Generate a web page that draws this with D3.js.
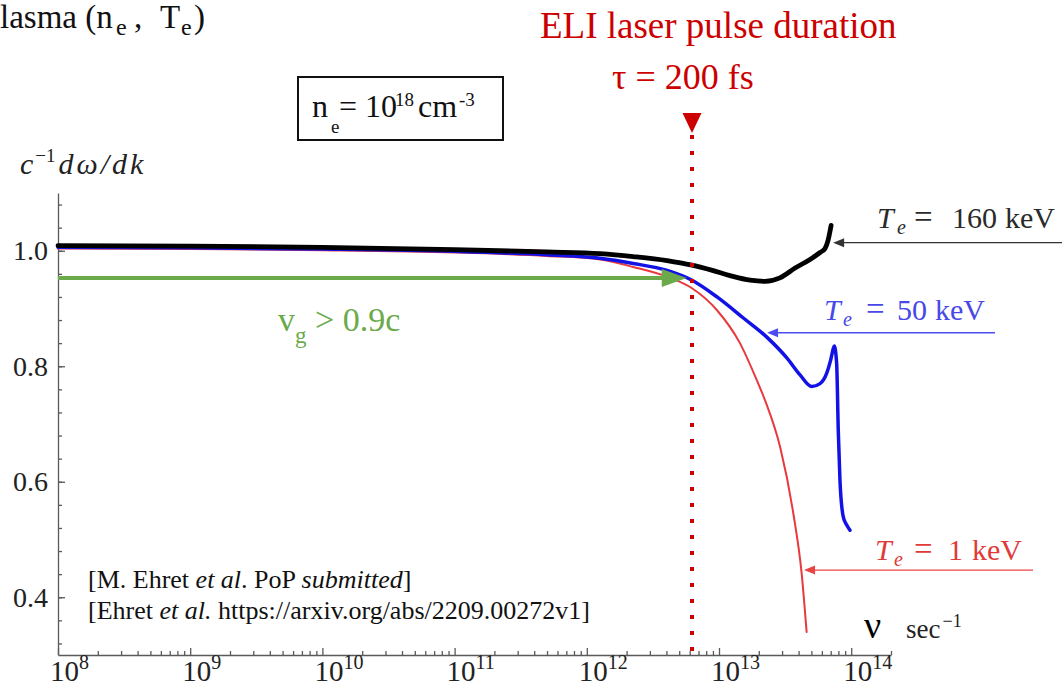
<!DOCTYPE html>
<html>
<head>
<meta charset="utf-8">
<script src="https://cdn.jsdelivr.net/npm/d3@7"></script>
<style>
  body { margin: 0; background: #fff; }
  svg { display: block; }
  text { font-family: "Liberation Serif", "Times New Roman", serif; }
</style>
</head>
<body>
<svg id="chart" width="1062" height="689"></svg>
<script>
// Group velocity c^-1 dω/dk versus frequency ν for three electron temperatures
const freq1keV = [1e8, 1e9, 1e10, 1e11, 5e11, 1.26e12, 2.24e12, 4.05e12, 6.25e12, 9.66e12,
                  1.44e13, 1.93e13, 2.23e13, 2.9e13, 3.65e13, 4.22e13, 4.6e13];
const vg1keV   = [1.004, 1.003, 1.001, 0.997, 0.991, 0.985, 0.972, 0.955, 0.935, 0.897,
                  0.840, 0.776, 0.741, 0.660, 0.545, 0.441, 0.340];

const freq50keV = [1e8, 1e9, 1e10, 1e11, 5e11, 1.26e12, 2.24e12, 4.05e12, 6.25e12, 9.66e12,
                   1.52e13, 2.31e13, 3.27e13, 4.1e13, 5.02e13, 5.81e13, 6.53e13, 7.0e13,
                   7.33e13, 7.45e13, 7.76e13, 7.98e13, 8.22e13, 8.71e13, 9.25e13, 9.79e13];
const vg50keV   = [1.006, 1.005, 1.003, 0.999, 0.993, 0.987, 0.978, 0.966, 0.949, 0.920,
                   0.884, 0.850, 0.814, 0.785, 0.765, 0.770, 0.788, 0.811,
                   0.831, 0.835, 0.805, 0.690, 0.603, 0.539, 0.525, 0.516];

const freq160keV = [1e8, 1e9, 1e10, 1e11, 5e11, 1.26e12, 2.24e12, 4.05e12, 6.25e12, 8.91e12,
                    1.21e13, 1.72e13, 2.23e13, 2.89e13, 3.76e13, 4.88e13, 5.81e13, 6.34e13,
                    6.68e13, 7.05e13];
const vg160keV   = [1.009, 1.008, 1.006, 1.002, 0.998, 0.995, 0.990, 0.983, 0.975, 0.966,
                    0.957, 0.949, 0.947, 0.953, 0.970, 0.985, 0.997, 1.004, 1.018, 1.044];

const xTickExponents = [8, 9, 10, 11, 12, 13, 14];
const yTickValues = [0.4, 0.6, 0.8, 1.0];
const yTickLabels = ["0.4", "0.6", "0.8", "1.0"];

const pulseFreq = 6.25e12;      // 1/τ marker
const thresholdVg = 0.953;      // v_g > 0.9c arrow level
const thresholdFreq = 5.7e12;   // arrow tip

// Temperature labels and where their pointers touch the curves
const legendKeV = ["160", "50", "1"];
const legendTipFreq = [7.3e13, 2.31e13, 4.4e13];
const legendTipVg = [1.014, 0.858, 0.447];

const svg = d3.select("#chart");
const x = d3.scaleLog().domain([1e8, 2e14]).range([58, 891]);
const y = d3.scaleLinear().domain([0.3, 1.1]).range([655, 193]);

// ---- axes ----
const minorX = [];
for (let e = 8; e <= 13; e++) for (let k = 2; k <= 9; k++) minorX.push(k * Math.pow(10, e));
minorX.push(2e14);
const majorX = xTickExponents.map(e => Math.pow(10, e));

const axisColor = "#5a5a5a";
const gx = svg.append("g").attr("transform", "translate(0,655)");
gx.call(d3.axisBottom(x).tickValues(minorX).tickSize(-4).tickSizeOuter(0).tickFormat(""));
gx.append("g").call(d3.axisBottom(x).tickValues(majorX).tickSize(-7).tickSizeOuter(0).tickFormat(""))
  .select(".domain").remove();
gx.selectAll("path,line").attr("stroke", axisColor).attr("stroke-width", 1.3);

const minorY = d3.range(0.32, 1.09, 0.04);
const gy = svg.append("g").attr("transform", "translate(58,0)");
gy.call(d3.axisLeft(y).tickValues(minorY).tickSize(-4).tickSizeOuter(0).tickFormat(""));
gy.append("g").call(d3.axisLeft(y).tickValues(yTickValues).tickSize(-7).tickSizeOuter(0).tickFormat(""))
  .select(".domain").remove();
gy.selectAll("path,line").attr("stroke", axisColor).attr("stroke-width", 1.3);

// x tick labels 10^n
const xl = svg.append("g").attr("fill", "#222").attr("font-size", 29);
xTickExponents.forEach(e => {
  const t = xl.append("text").attr("x", x(Math.pow(10, e)) - 8).attr("y", 681);
  t.append("tspan").text("10");
  t.append("tspan").attr("font-size", 20).attr("dy", -12).text(e);
});

// y tick labels
svg.append("g").attr("fill", "#222").attr("font-size", 28).attr("text-anchor", "end")
  .selectAll("text").data(yTickValues).join("text")
  .attr("x", 48).attr("y", d => y(d) + 9.5)
  .text((d, i) => yTickLabels[i]);

// y axis title
const yt = svg.append("text").attr("x", 20).attr("y", 174).attr("font-size", 30).attr("fill", "#222");
yt.append("tspan").attr("font-style", "italic").text("c");
yt.append("tspan").attr("font-size", 19).attr("dy", -12).attr("dx", 2).text("\u22121");
yt.append("tspan").attr("font-style", "italic").attr("dy", 12).attr("dx", 3)
  .attr("letter-spacing", 3).text("d\u03C9/dk");

// x axis unit
svg.append("text").attr("x", 864).attr("y", 638).attr("font-size", 38).attr("fill", "#000").text("\u03BD");
const unit = svg.append("text").attr("x", 906).attr("y", 638).attr("font-size", 27).attr("fill", "#222");
unit.append("tspan").text("sec");
unit.append("tspan").attr("font-size", 18).attr("dy", -11).attr("dx", 2).text("\u22121");

// ---- curves ----
const line = d3.line().x(d => x(d[0])).y(d => y(d[1])).curve(d3.curveMonotoneX);
const series = [
  { f: freq1keV,   v: vg1keV,   color: "#e8393c", w: 2 },
  { f: freq50keV,  v: vg50keV,  color: "#1212e6", w: 3.5 },
  { f: freq160keV, v: vg160keV, color: "#000000", w: 4.8 }
];
series.forEach(s => {
  svg.append("path")
    .datum(s.f.map((f, i) => [f, s.v[i]]))
    .attr("d", line)
    .attr("fill", "none")
    .attr("stroke", s.color)
    .attr("stroke-width", s.w)
    .attr("stroke-linejoin", "round")
    .attr("stroke-linecap", "round");
});

// ---- v_g > 0.9c arrow ----
const green = "#6aaa4a";
const gyPos = y(thresholdVg);
const tipX = x(thresholdFreq);
svg.append("line").attr("x1", x(1e8)).attr("x2", tipX - 20).attr("y1", gyPos).attr("y2", gyPos)
  .attr("stroke", green).attr("stroke-width", 4);
svg.append("path")
  .attr("d", `M${tipX},${gyPos} L${tipX - 25},${gyPos - 9} L${tipX - 25},${gyPos + 9} Z`)
  .attr("fill", green);
const vg = svg.append("text").attr("x", 278).attr("y", 331).attr("font-size", 34).attr("fill", green);
vg.append("tspan").text("v");
vg.append("tspan").attr("font-size", 23).attr("dy", 12).text("g");
vg.append("tspan").attr("dy", -12).text(" > 0.9c");

// ---- pulse duration marker ----
const red = "#cc0000";
const px = x(pulseFreq);
svg.append("line").attr("x1", px).attr("x2", px).attr("y1", 135).attr("y2", 652)
  .attr("stroke", red).attr("stroke-width", 4).attr("stroke-dasharray", "4 12");
svg.append("path").attr("d", `M${px - 9.5},113 L${px + 9.5},113 L${px},133 Z`).attr("fill", red);
svg.append("text").attr("x", 540).attr("y", 38).attr("font-size", 37).attr("fill", red)
  .text("ELI laser pulse duration");
svg.append("text").attr("x", 612).attr("y", 89).attr("font-size", 36).attr("fill", red)
  .text("\u03C4 = 200 fs");

// ---- density box ----
svg.append("rect").attr("x", 298).attr("y", 77).attr("width", 205).attr("height", 63)
  .attr("fill", "none").attr("stroke", "#111").attr("stroke-width", 2);
const box = svg.append("g").attr("fill", "#111");
box.append("text").attr("x", 312).attr("y", 117).attr("font-size", 32).text("n");
box.append("text").attr("x", 331).attr("y", 133).attr("font-size", 19).text("e");
box.append("text").attr("x", 339).attr("y", 117).attr("font-size", 32).text("= 10");
box.append("text").attr("x", 395).attr("y", 106).attr("font-size", 19).text("18");
box.append("text").attr("x", 418).attr("y", 117).attr("font-size", 32).text("cm");
box.append("text").attr("x", 459).attr("y", 106).attr("font-size", 19).text("-3");

// ---- heading fragment at top-left ----
const hd = svg.append("g").attr("fill", "#111");
hd.append("text").attr("x", 0).attr("y", 28).attr("font-size", 33).text("lasma (n");
hd.append("text").attr("x", 116).attr("y", 35).attr("font-size", 24).text("e");
hd.append("text").attr("x", 134).attr("y", 28).attr("font-size", 33).text(",");
hd.append("text").attr("x", 160).attr("y", 28).attr("font-size", 33).text("T");
hd.append("text").attr("x", 181).attr("y", 35).attr("font-size", 24).text("e");
hd.append("text").attr("x", 194).attr("y", 28).attr("font-size", 33).text(")");

// ---- temperature labels with pointers ----
const legendStyle = [
  { color: "#333333", textColor: "#2a2a2a", xEnd: 1062, tx: [877, 897, 914, 952, 1005], base: 228 },
  { color: "#4c4cf0", textColor: "#4848e8", xEnd: 995,  tx: [824, 843, 866, 897, 935],  base: 320 },
  { color: "#e84444", textColor: "#e03a3a", xEnd: 1033, tx: [875, 894, 914, 948, 972],  base: 560 }
];
legendKeV.forEach((k, i) => {
  const s = legendStyle[i];
  const tx0 = x(legendTipFreq[i]);
  const ty0 = y(legendTipVg[i]);
  svg.append("line").attr("x1", tx0 + 8).attr("x2", s.xEnd).attr("y1", ty0).attr("y2", ty0)
    .attr("stroke", s.color).attr("stroke-width", 1.4);
  svg.append("path").attr("d", `M${tx0},${ty0} L${tx0 + 11},${ty0 - 4.5} L${tx0 + 11},${ty0 + 4.5} Z`)
    .attr("fill", s.color);
  const g = svg.append("g").attr("fill", s.textColor).attr("font-size", 30);
  g.append("text").attr("x", s.tx[0]).attr("y", s.base).attr("font-style", "italic").text("T");
  g.append("text").attr("x", s.tx[1]).attr("y", s.base + 6).attr("font-size", 20)
    .attr("font-style", "italic").text("e");
  g.append("text").attr("x", s.tx[2]).attr("y", s.base).attr("font-size", 33).text("=");
  g.append("text").attr("x", s.tx[3]).attr("y", s.base).text(k);
  g.append("text").attr("x", s.tx[4]).attr("y", s.base).text("keV");
});

// ---- references ----
const refs = svg.append("g").attr("fill", "#111").attr("font-size", 26);
const r1 = refs.append("text").attr("x", 88).attr("y", 588);
r1.append("tspan").text("[M. Ehret ");
r1.append("tspan").attr("font-style", "italic").text("et al");
r1.append("tspan").text(". PoP ");
r1.append("tspan").attr("font-style", "italic").text("submitted");
r1.append("tspan").text("]");
const r2 = refs.append("text").attr("x", 88).attr("y", 619);
r2.append("tspan").text("[Ehret ");
r2.append("tspan").attr("font-style", "italic").text("et al.");
r2.append("tspan").text(" https://arxiv.org/abs/2209.00272v1]");
</script>
</body>
</html>
